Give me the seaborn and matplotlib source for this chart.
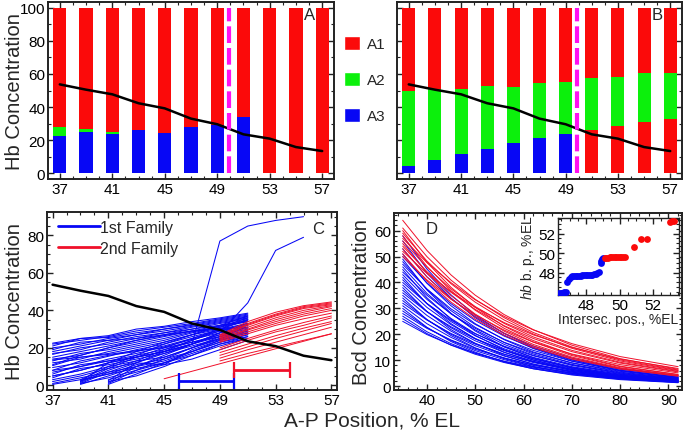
import numpy as np
import pandas as pd
import matplotlib
matplotlib.use("Agg")
import matplotlib.pyplot as plt
import seaborn as sns
from matplotlib.patches import Patch
from matplotlib.lines import Line2D
from matplotlib.ticker import MultipleLocator

sns.set_theme(style="white")
plt.rcParams["font.family"] = ["Liberation Sans", "DejaVu Sans"]
plt.rcParams["mathtext.fontset"] = "custom"
plt.rcParams["mathtext.it"] = "Liberation Sans:italic"
plt.rcParams["mathtext.rm"] = "Liberation Sans"

# ---------------- data ----------------
positions = [37, 39, 41, 43, 45, 47, 49, 51, 53, 55, 57]
hb_mean = [53.7, 50.5, 47.7, 42.3, 39.2, 33.0, 29.6, 23.5, 20.9, 15.8, 13.4]
boundary = 49.9
full_height = [100] * 11

# panel A stacks
a3_A = [22.5, 25.0, 24.0, 26.0, 24.5, 28.0, 29.0, 34.0, 0, 0, 0]
a2_A = [5.5, 1.5, 1.0, 0, 0, 0, 0, 0, 0, 0, 0]
# panel B stacks
a3_B = [4.4, 7.8, 11.5, 14.9, 18.0, 21.0, 24.0, 0, 0, 0, 0]
a1low_B = [0, 0, 0, 0, 0, 0, 0, 26.0, 28.6, 31.0, 33.0]
a2_B = [45.3, 43.2, 39.2, 38.1, 34.0, 33.3, 31.0, 31.5, 29.4, 29.4, 27.5]
legend_AB = ["A1", "A2", "A3"]

# panel C: individual hb profiles (sampled every 2 %EL from a start position)
blue_from37 = [
    [22.5, 25, 26.5, 30, 31.5, 34, 36, 38.5],
    [22, 24, 26, 29, 31, 33, 35.5, 38],
    [21, 25, 25.5, 28, 30, 32.5, 35, 37.5],
    [20, 22, 25, 27, 30, 32, 34.5, 37],
    [18, 21, 24, 27, 29, 31.5, 34, 36.5],
    [16.5, 20, 22, 25, 28, 31, 33.5, 36],
    [15, 18, 21, 24, 27, 30, 33, 35.5],
    [14, 16, 20, 23, 26, 29, 32, 35],
    [13, 17, 19, 22, 25, 28.5, 31.5, 34.5],
    [12, 14, 18, 21, 24, 28, 31, 34],
    [10.5, 15, 17, 20, 23, 27, 30, 33],
    [9.5, 12, 15.5, 19, 22, 26, 29.5, 32.5],
    [8, 13, 16, 18, 21, 25, 29, 32],
    [7, 10, 14, 17, 20.5, 24.5, 28, 31],
    [6, 11, 13, 16, 19, 23, 27, 30],
    [5, 8, 12, 15, 18, 22, 26, 29.5],
    [4, 9, 11, 14, 17, 21, 25, 29],
    [3, 6, 10, 13, 15, 20, 24.5, 28],
    [2, 5, 9, 12, 11, 19, 24, 27],
    [1, 4, 7, 10, 13, 18, 23, 26],
    [0.5, 3, 6, 9, 12, 17, 22, 25],
    [17, 19, 23, 26, 28, 30, 32, 34],
    [11, 16, 20, 24, 26.5, 29, 30.5, 31],
    [19, 23, 24, 25, 27, 29, 30, 30.5],
    [13.5, 15, 16.5, 18.5, 20, 23, 26, 28],
]
blue_from39 = [
    [0.5, 5, 10, 15, 20, 25, 29],
    [1, 7, 12, 17, 22, 27, 31],
    [1.5, 8, 13, 19, 24, 29, 33],
    [2, 9, 15, 20, 25, 30, 35],
    [2.5, 6, 11, 14, 18, 23, 27],
    [3, 10, 16, 22, 27, 31, 36],
    [1, 4, 8, 12, 16, 21, 25],
    [2, 12, 18, 23, 27, 32, 37],
]
blue_from41 = [
    [0.5, 6, 12, 18, 24, 28],
    [1, 8, 14, 20, 26, 31],
    [1.5, 10, 16, 22, 28, 33],
    [2, 5, 10, 16, 22, 26],
    [2.5, 12, 18, 24, 30, 35],
    [3, 7, 11, 14, 19, 24],
]
blue_risers = [
    [8, 10, 13, 15, 18, 22, 77, 85, 88, 90],
    [5, 8, 12, 15, 18, 22, 28, 44, 72, 79],
]
red_from49 = [
    [27, 34, 39, 42.5, 44.5],
    [26.5, 33, 38, 42, 44],
    [26, 32.5, 37.5, 41.5, 43.5],
    [25.5, 32, 37, 41, 43],
    [25, 31, 36, 40, 42.5],
    [24.5, 30, 35, 39, 42],
    [24, 29.5, 34, 38, 41],
    [23.5, 28.5, 33, 37, 40],
    [23, 27.5, 32, 35.5, 38.5],
    [20, 25, 29.5, 33.5, 37],
    [19, 24, 28.5, 32, 36],
    [17.5, 22, 26.5, 30.5, 34],
    [16, 20.5, 25, 29, 33],
    [14.5, 19, 23, 27, 31],
    [13, 17, 20.5, 24, 27.5],
]
red_from45 = [[3.5, 7.5, 11.5, 15.5, 19.5, 23.5, 27.5]]
bp_blue = [46.1, 50.0]
bp_blue_level = 2.3
bp_red = [50.0, 54.0]
bp_red_level = 8.2
family_labels = ["1st Family", "2nd Family"]

# panel D: Bcd profiles sampled at these positions
d_x = [35, 40, 45, 50, 56, 62, 70, 80, 92]
bcd_blue = [
    [58, 45.2, 35.2, 27.4, 20.3, 15.0, 10.1, 6.1, 3.4],
    [56, 43.6, 34.0, 26.4, 19.6, 14.5, 9.7, 5.9, 3.2],
    [53, 42.2, 33.7, 26.8, 20.4, 15.5, 10.8, 6.8, 4.0],
    [51, 39.7, 31.0, 24.1, 17.9, 13.2, 8.9, 5.4, 3.0],
    [50, 39.9, 31.8, 25.3, 19.3, 14.7, 10.2, 6.5, 3.8],
    [49, 37.1, 28.1, 21.3, 15.2, 10.9, 7.0, 4.0, 2.1],
    [48, 37.4, 29.1, 22.7, 16.8, 12.4, 8.4, 5.0, 2.8],
    [47, 37.5, 29.8, 23.8, 18.1, 13.8, 9.6, 6.1, 3.5],
    [46, 35.8, 27.9, 21.7, 16.1, 11.9, 8.0, 4.8, 2.7],
    [45, 34.1, 25.8, 19.6, 14.0, 10.0, 6.4, 3.7, 1.9],
    [44, 35.1, 27.9, 22.3, 16.9, 12.9, 9.0, 5.7, 3.3],
    [43, 33.5, 26.1, 20.3, 15.1, 11.1, 7.5, 4.5, 2.5],
    [42, 31.8, 24.1, 18.3, 13.1, 9.4, 6.0, 3.4, 1.8],
    [41, 31.9, 24.9, 19.4, 14.4, 10.6, 7.1, 4.3, 2.4],
    [40, 31.9, 25.4, 20.2, 15.4, 11.7, 8.2, 5.2, 3.0],
    [39, 30.4, 23.7, 18.4, 13.7, 10.1, 6.8, 4.1, 2.3],
    [38, 28.8, 21.8, 16.5, 11.8, 8.5, 5.4, 3.1, 1.6],
    [37, 28.8, 22.5, 17.5, 13.0, 9.6, 6.4, 3.9, 2.1],
    [36, 28.7, 22.9, 18.2, 13.9, 10.5, 7.3, 4.6, 2.7],
    [35, 27.3, 21.2, 16.5, 12.3, 9.1, 6.1, 3.7, 2.0],
    [34, 25.7, 19.5, 14.8, 10.6, 7.6, 4.9, 2.8, 1.4],
    [33, 25.7, 20.0, 15.6, 11.6, 8.5, 5.7, 3.5, 1.9],
    [32, 25.5, 20.3, 16.2, 12.3, 9.4, 6.5, 4.1, 2.4],
    [31, 24.1, 18.8, 14.6, 10.9, 8.0, 5.4, 3.3, 1.8],
    [30, 22.7, 17.2, 13.1, 9.3, 6.7, 4.3, 2.5, 1.3],
    [29, 22.6, 17.6, 13.7, 10.2, 7.5, 5.0, 3.0, 1.7],
    [28, 22.3, 17.8, 14.2, 10.8, 8.2, 5.7, 3.6, 2.1],
    [27, 21.0, 16.4, 12.7, 9.5, 7.0, 4.7, 2.8, 1.6],
    [26, 20.3, 15.8, 12.3, 9.1, 6.7, 4.5, 2.7, 1.5],
    [25, 19.9, 15.9, 12.7, 9.6, 7.3, 5.1, 3.2, 1.9],
]
bcd_red = [
    [64, 52.4, 42.9, 35.1, 27.6, 21.8, 15.8, 10.6, 6.5],
    [61, 50.0, 40.9, 33.5, 26.4, 20.7, 15.1, 10.1, 6.2],
    [60, 47.8, 38.1, 30.4, 23.1, 17.6, 12.2, 7.7, 4.5],
    [59, 48.3, 39.5, 32.4, 25.5, 20.1, 14.6, 9.7, 6.0],
    [58, 46.2, 36.8, 29.3, 22.3, 17.0, 11.8, 7.5, 4.4],
    [57, 47.7, 39.9, 33.3, 26.9, 21.7, 16.4, 11.4, 7.5],
    [56, 45.9, 37.5, 30.7, 24.2, 19.0, 13.8, 9.2, 5.7],
    [55, 43.8, 34.9, 27.8, 21.2, 16.1, 11.2, 7.1, 4.1],
    [54, 44.2, 36.2, 29.6, 23.3, 18.4, 13.3, 8.9, 5.5],
    [53, 42.2, 33.7, 26.8, 20.4, 15.5, 10.8, 6.8, 4.0],
    [52, 43.5, 36.4, 30.4, 24.5, 19.8, 14.9, 10.4, 6.8],
    [51, 40.6, 32.4, 25.8, 19.6, 14.9, 10.4, 6.6, 3.8],
    [50, 41.0, 33.5, 27.5, 21.6, 17.0, 12.4, 8.3, 5.1],
]

# inset: intersection position vs hb boundary position
ins_blue_x = [46.35, 46.45, 46.55, 46.65, 46.75, 46.85, 46.95, 47.05, 47.15,
              47.25, 47.35, 47.45, 47.55, 47.65, 47.75, 47.85, 47.95, 48.05,
              48.15, 48.25, 48.35, 48.45, 48.55, 48.65, 48.75, 48.85, 48.9,
              48.95, 49.0]
ins_blue_y = [45.95, 45.95, 45.95, 45.98, 46.05, 47.0, 47.3, 47.5, 47.6,
              47.65, 47.68, 47.7, 47.7, 47.7, 47.72, 47.72, 47.74, 47.75,
              47.76, 47.78, 47.8, 47.82, 47.86, 47.95, 48.1, 49.0, 49.2,
              49.35, 49.45]
ins_red_x = [49.1, 49.2, 49.3, 49.4, 49.5, 49.6, 49.7, 49.8, 49.9,
             50.0, 50.1, 50.2, 50.3, 50.85, 51.3, 51.65, 53.0, 53.12, 53.25]
ins_red_y = [49.52, 49.53, 49.54, 49.55, 49.55, 49.56, 49.56, 49.57,
             49.57, 49.58, 49.58, 49.6, 49.6, 50.6, 51.4, 51.4, 53.2, 53.25,
             53.3]

# ---------------- style ----------------
RED = "#fb0a0a"
GREEN = "#0cf00c"
BLUE = "#0707f5"
LRED = "#f0102a"
MAGENTA = "#ff10f0"

W, H = 685, 439
fig = plt.figure(figsize=(W / 100, H / 100), dpi=100)
fig.patch.set_facecolor("white")


def px_axes(l, t, r, b):
    return fig.add_axes([l / W, 1 - b / H, (r - l) / W, (b - t) / H])


def style(ax, xmaj, xmin, ymaj, ymin, fs=11, lab_left=True):
    ax.xaxis.set_major_locator(MultipleLocator(xmaj))
    ax.xaxis.set_minor_locator(MultipleLocator(xmin))
    ax.yaxis.set_major_locator(MultipleLocator(ymaj))
    ax.yaxis.set_minor_locator(MultipleLocator(ymin))
    ax.tick_params(which="both", direction="in", bottom=True, top=True,
                   left=True, right=True, labelsize=fs, pad=2,
                   color="#222222", labelcolor="black")
    ax.tick_params(which="major", length=4, width=1)
    ax.tick_params(which="minor", length=2.2, width=0.8)
    ax.tick_params(labelleft=lab_left)
    for s in ax.spines.values():
        s.set_color("#222222")
        s.set_linewidth(1.4)
    ax.set_facecolor("white")


axA = px_axes(48, 3, 334, 180)
axB = px_axes(397, 3, 682, 180)
axC = px_axes(47, 213, 337, 391)
axD = px_axes(394, 214, 682, 391)
axI = px_axes(558, 219, 679, 296)

# ---------------- panels A and B ----------------


def bars(ax, heights, color):
    sns.barplot(x=positions, y=heights, native_scale=True, orient="x",
                color=color, saturation=1, width=0.5, errorbar=None,
                linewidth=0, ax=ax)


bars(axA, full_height, RED)
bars(axA, list(np.array(a3_A) + np.array(a2_A)), GREEN)
bars(axA, a3_A, BLUE)

bars(axB, full_height, RED)
bars(axB, list(np.array(a3_B) + np.array(a1low_B) + np.array(a2_B)), GREEN)
bars(axB, a3_B, BLUE)
bars(axB, a1low_B, RED)

for ax, letter in ((axA, "A"), (axB, "B")):
    sns.lineplot(x=positions, y=hb_mean, color="black", lw=1.8, ax=ax)
    ax.vlines(boundary, 0, 100, colors=MAGENTA, lw=3,
              linestyles=(0, (4, 1.2)), zorder=5)
    ax.set_xlim(36.1, 57.9)
    ax.set_ylim(-3.5, 103.5)
    style(ax, 4, 1, 20, 10, lab_left=(ax is axA))
    ax.set_xticks([37, 41, 45, 49, 53, 57])
    ax.set_xlabel("")
    ax.set_ylabel("")
    ax.text(0.915 if letter == "A" else 0.912, 0.93, letter,
            transform=ax.transAxes, fontsize=12, ha="center", va="center")

axA.set_ylabel("Hb Concentration", fontsize=14.5)
axA.yaxis.set_label_coords(-0.085, 0.5)

fig.legend([Patch(facecolor=RED), Patch(facecolor=GREEN), Patch(facecolor=BLUE)],
           legend_AB, loc="upper left", bbox_to_anchor=(344 / W, 1 - 37 / H),
           frameon=False, fontsize=11, handlelength=1.05, handleheight=1.05,
           handletextpad=0.45, labelspacing=1.35, borderpad=0,
           borderaxespad=0)

# ---------------- panel C ----------------


def lines_frame(groups, step=2):
    rows = []
    uid = 0
    for start, lines in groups:
        for vals in lines:
            for k, v in enumerate(vals):
                rows.append((uid, start + step * k, v))
            uid += 1
    return pd.DataFrame(rows, columns=["line", "x", "y"])


df_cb = lines_frame([(37, blue_from37), (39, blue_from39), (41, blue_from41),
                     (37, blue_risers)])
df_cr = lines_frame([(49, red_from49), (45, red_from45)])

sns.lineplot(data=df_cb, x="x", y="y", units="line", estimator=None,
             color=BLUE, lw=0.75, ax=axC)
sns.lineplot(data=df_cr, x="x", y="y", units="line", estimator=None,
             color=LRED, lw=0.7, ax=axC)
sns.lineplot(x=positions, y=hb_mean, color="black", lw=1.8, ax=axC)

for rng, lvl, col in ((bp_blue, bp_blue_level, BLUE), (bp_red, bp_red_level, LRED)):
    axC.errorbar(x=[np.mean(rng)], y=[lvl], xerr=[np.diff(rng)[0] / 2],
                 fmt="none", ecolor=col, elinewidth=2, capsize=6,
                 capthick=1.6)

axC.set_xlim(36.6, 57.4)
axC.set_ylim(-2.5, 92.5)
style(axC, 4, 1, 20, 5)
axC.set_xticks([37, 41, 45, 49, 53, 57])
axC.set_xlabel("")
axC.set_ylabel("Hb Concentration", fontsize=14.5)
axC.yaxis.set_label_coords(-0.08, 0.5)
axC.text(0.934, 0.91, "C", transform=axC.transAxes, fontsize=12,
         ha="center", va="center")
axC.legend([Line2D([], [], color=BLUE, lw=2), Line2D([], [], color=LRED, lw=2)],
           family_labels, loc="upper left", bbox_to_anchor=(0.038, 0.955),
           frameon=False, fontsize=11.5, handlelength=2.6,
           handletextpad=0.05, borderpad=0, borderaxespad=0,
           labelspacing=0.35)

# ---------------- panel D ----------------
df_db = lines_frame([(0, bcd_blue)], step=1)
df_db["x"] = [d_x[int(i)] for i in df_db["x"]]
df_dr = lines_frame([(0, bcd_red)], step=1)
df_dr["x"] = [d_x[int(i)] for i in df_dr["x"]]
sns.lineplot(data=df_db, x="x", y="y", units="line", estimator=None,
             color=BLUE, lw=0.7, ax=axD)
sns.lineplot(data=df_dr, x="x", y="y", units="line", estimator=None,
             color=LRED, lw=0.7, ax=axD)
axD.set_xlim(33.2, 92.8)
axD.set_ylim(-1.5, 66.8)
style(axD, 10, 2, 10, 2)
axD.set_xlabel("")
axD.set_ylabel("Bcd Concentration", fontsize=14.5)
axD.yaxis.set_label_coords(-0.08, 0.5)
axD.text(0.132, 0.915, "D", transform=axD.transAxes, fontsize=12,
         ha="center", va="center")

# ---------------- inset ----------------
sns.scatterplot(x=ins_blue_x, y=ins_blue_y, color=BLUE, s=24, linewidth=0,
                ax=axI, zorder=3)
sns.scatterplot(x=ins_red_x, y=ins_red_y, color=RED, s=24, linewidth=0,
                ax=axI, zorder=3)
axI.set_xlim(46.3, 53.55)
axI.set_ylim(45.7, 53.6)
style(axI, 2, 0.5, 2, 0.5, fs=11)
axI.set_xticks([48, 50, 52])
axI.set_yticks([48, 50, 52])
axI.set_xlabel("Intersec. pos., %EL", fontsize=10, labelpad=0)
axI.set_ylabel(r"$\it{hb}$ b. p., %EL", fontsize=10, labelpad=1)
for s in axI.spines.values():
    s.set_linewidth(1.0)

fig.text(372 / W, 1 - 421 / H, "A-P Position, % EL", ha="center",
         va="center", fontsize=15)

fig.savefig("out.png", dpi=100, facecolor="white")
